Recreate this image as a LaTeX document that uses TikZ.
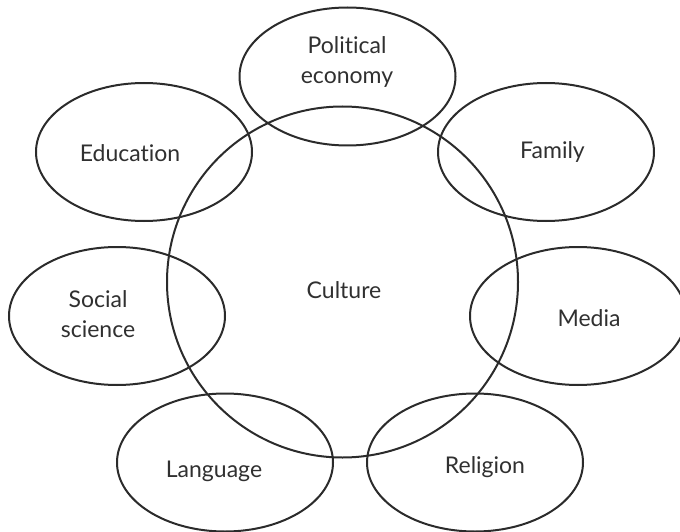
\documentclass[tikz,border=0pt]{standalone}
\usepackage{fontspec}
\setmainfont{Lato}[Ligatures={NoCommon}]
\usetikzlibrary{shapes.geometric}
\definecolor{ink}{HTML}{2B2B2B}
\definecolor{txt}{HTML}{303030}
\begin{document}
\begin{tikzpicture}[x=1pt,y=-1pt,
  oval/.style={draw=ink,line width=2pt,ellipse,inner sep=0pt,minimum width=216pt,minimum height=138pt},
  lbl/.style={text=txt,align=center,font=\fontsize{23}{30}\selectfont,inner sep=0pt}]
\useasboundingbox (0,0) rectangle (680,532);
\clip (0,0) rectangle (680,532);
\node[draw=ink,line width=2pt,circle,inner sep=0pt,minimum size=351pt] (culture) at (342.5,282) {};
\node[oval] (pol) at (347.5,76.5) {};
\node[oval] (edu) at (144,152) {};
\node[oval] (fam) at (546,152) {};
\node[oval] (soc) at (117,316) {};
\node[oval] (med) at (578,316) {};
\node[oval] (lan) at (225,462.5) {};
\node[oval] (rel) at (475,462.5) {};
\node[lbl] (tcul) at (344,290) {Culture};
\node[lbl] (tpol) at (347,62) {Political\\economy};
\node[lbl] (tedu) at (130,153) {Education};
\node[lbl] (tfam) at (552.5,152) {Family};
\node[lbl] (tsoc) at (98,314) {Social\\science};
\node[lbl] (tmed) at (589,318) {Media};
\node[lbl] (tlan) at (214,471) {Language};
\node[lbl] (trel) at (485,467) {Religion};
\end{tikzpicture}
\end{document}
